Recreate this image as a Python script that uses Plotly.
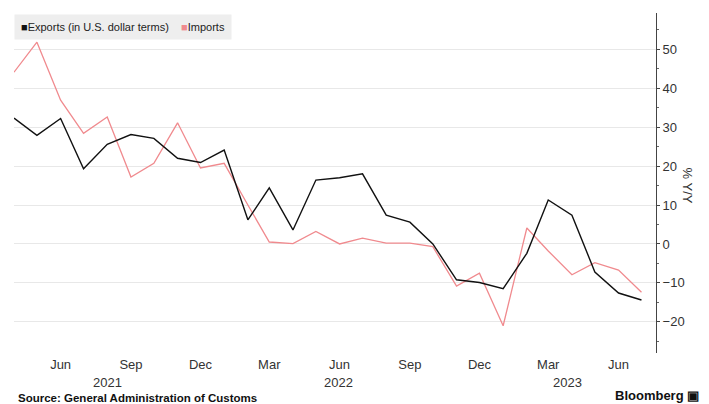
import plotly.graph_objects as go

months = ["2021-04-01","2021-05-01","2021-06-01","2021-07-01","2021-08-01","2021-09-01",
          "2021-10-01","2021-11-01","2021-12-01","2022-01-01","2022-02-01","2022-03-01",
          "2022-04-01","2022-05-01","2022-06-01","2022-07-01","2022-08-01","2022-09-01",
          "2022-10-01","2022-11-01","2022-12-01","2023-01-01","2023-02-01","2023-03-01",
          "2023-04-01","2023-05-01","2023-06-01","2023-07-01"]
exports = [32.3, 27.9, 32.2, 19.3, 25.6, 28.1, 27.1, 22.0, 20.9, 24.1, 6.2, 14.4,
           3.6, 16.4, 17.0, 18.0, 7.4, 5.6, 0.0, -9.2, -9.9, -11.5, -2.4, 11.3,
           7.4, -7.2, -12.6, -14.4]
imports = [44.1, 51.8, 36.9, 28.4, 32.6, 17.2, 20.7, 31.1, 19.5, 20.7, 10.0, 0.5,
           0.1, 3.2, 0.0, 1.5, 0.2, 0.2, -0.7, -10.8, -7.5, -21.0, 4.1, -1.8,
           -7.9, -4.8, -6.7, -12.4]
tick_dates = ["2021-06-01","2021-09-01","2021-12-01","2022-03-01","2022-06-01",
              "2022-09-01","2022-12-01","2023-03-01","2023-06-01"]
tick_text = ["Jun","Sep","Dec","Mar","Jun","Sep","Dec","Mar","Jun"]
year_pos = ["2021-08-01","2022-05-30","2023-03-26"]
year_text = ["2021","2022","2023"]
y_ticks = [-20, -10, 0, 10, 20, 30, 40, 50]
minor_ticks = [-25, -15, -5, 5, 15, 25, 35, 45, 55]

FONT = "Liberation Sans, Arial, sans-serif"
BLACK = "#111111"
PINK = "#f08a8e"
TXT = "#333333"

fig = go.Figure()
fig.add_trace(go.Scatter(x=months, y=imports, mode="lines", name="Imports",
                         line=dict(color=PINK, width=1.3), showlegend=False))
fig.add_trace(go.Scatter(x=months, y=exports, mode="lines", name="Exports (in U.S. dollar terms)",
                         line=dict(color=BLACK, width=1.4), showlegend=False))

fig.update_layout(
    width=701, height=396,
    margin=dict(l=6, r=53, t=5, b=51, autoexpand=False),
    paper_bgcolor="white", plot_bgcolor="white",
    font=dict(family=FONT, size=13, color=TXT),
    showlegend=False,
    xaxis=dict(type="date", range=["2021-04-01", "2023-07-20"],
               tickvals=tick_dates, ticktext=tick_text, showgrid=False,
               showline=False, zeroline=False, ticks="", ticklabelstandoff=2,
               tickfont=dict(size=13, color=TXT)),
    yaxis=dict(side="right", range=[-28, 59.3], tickvals=y_ticks,
               showgrid=True, gridcolor="#e8e8e8", gridwidth=1.2,
               zeroline=False, showline=True, linecolor="#444444", linewidth=1,
               ticks="outside", ticklen=3, tickcolor="#444444",
               minor=dict(tickvals=minor_ticks, ticks="outside",
                          ticklen=2, tickcolor="#666666", showgrid=False),
               tickfont=dict(size=13, color=TXT)),
)

# legend box (compact, Bloomberg style)
fig.add_annotation(x=0, xref="paper", xshift=0, y=1, yref="paper", yshift=-1,
                   xanchor="left", yanchor="top", showarrow=False,
                   text=("<span style='color:%s'>■</span>Exports (in U.S. dollar terms)&nbsp;&nbsp;&nbsp;&nbsp;"
                         "<span style='color:%s'>■</span>Imports" % (BLACK, PINK)),
                   bgcolor="#eeeeee", borderpad=6,
                   font=dict(size=11, color="#222222", family=FONT))

for xp, t in zip(year_pos, year_text):
    fig.add_annotation(x=xp, y=0, xref="x", yref="paper", yshift=-29, text=t,
                       showarrow=False, yanchor="middle", font=dict(size=13, color=TXT))

fig.add_annotation(x=1.0, xref="paper", xshift=41, y=0.494, yref="paper", text="% Y/Y",
                   textangle=90, showarrow=False, font=dict(size=13, color=TXT))
fig.add_annotation(x=0, xref="paper", xshift=2, y=0, yref="paper", yshift=-45,
                   text="<b>Source: General Administration of Customs</b>", showarrow=False,
                   xanchor="left", yanchor="middle", font=dict(size=11.5, color="#111111"))
fig.add_annotation(x=1.0, xref="paper", xshift=45, y=0, yref="paper", yshift=-42,
                   text="<b>Bloomberg ▣</b>", showarrow=False,
                   xanchor="right", yanchor="middle", font=dict(size=13, color="#111111"))

fig.write_html("out.html")
